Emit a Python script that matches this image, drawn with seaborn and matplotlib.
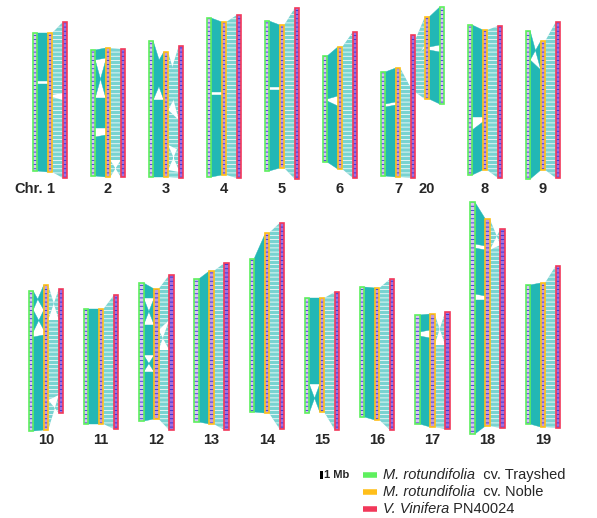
import numpy as np
import matplotlib
matplotlib.use("Agg")
import matplotlib.pyplot as plt
from matplotlib.patches import Rectangle, Polygon
import seaborn as sns

sns.set_style("white")
plt.rcParams['font.family'] = ['Liberation Sans', 'DejaVu Sans']
plt.rcParams['hatch.linewidth'] = 0.55

# ---------------- data (chromosome extents on the shared vertical scale) ----------------
chroms    = ['1', '2', '3', '4', '5', '6', '7', '20', '8', '9',
             '10', '11', '12', '13', '14', '15', '16', '17', '18', '19']
tray_top  = [33, 50, 41, 18, 21, 56, 72, 7, 25, 31,
             291, 309, 283, 279, 259, 298, 287, 315, 202, 285]
tray_bot  = [171, 176, 177, 177, 171, 162, 176, 104, 175, 179,
             431, 424, 421, 422, 412, 413, 417, 424, 434, 424]
noble_top = [33, 48, 52, 22, 25, 47, 68, 17, 30, 41,
             285, 309, 289, 271, 233, 298, 288, 314, 219, 283]
noble_bot = [172, 177, 177, 175, 168, 169, 177, 99, 170, 170,
             430, 424, 419, 424, 413, 412, 420, 427, 426, 427]
pn_top    = [22, 49, 46, 15, 8, 32, 35, np.nan, 26, 22,
             289, 295, 275, 263, 223, 292, 279, 312, 229, 266]
pn_bot    = [178, 177, 178, 178, 179, 178, 178, np.nan, 178, 178,
             413, 429, 430, 430, 429, 430, 430, 429, 428, 428]
pn_partner = {'20': '7'}   # V. vinifera chr 7 is shared by muscadine chr 7 and chr 20

# syntenic blocks: (start_a, end_a, start_b, end_b); reversed b = inversion
tray_noble_blocks = {
    '1':  [(33, 81, 33, 81), (84, 171, 84, 172)],
    '2':  [(50, 60, 48, 58), (60, 98, 98, 60), (98, 128, 98, 128), (137, 176, 135, 177)],
    '3':  [(41, 70, 75, 100), (70, 100, 52, 75), (100, 177, 100, 177)],
    '4':  [(18, 92, 22, 92), (95, 177, 95, 175)],
    '5':  [(21, 87, 25, 87), (90, 171, 90, 168)],
    '6':  [(56, 99, 47, 96), (101, 162, 106, 169)],
    '7':  [(72, 104, 68, 102), (107, 176, 105, 177)],
    '20': [(7, 45, 17, 47), (52, 104, 50, 99)],
    '8':  [(25, 117, 30, 117), (130, 175, 122, 170)],
    '9':  [(31, 60, 70, 41), (60, 179, 70, 170)],
    '10': [(291, 310, 310, 285), (310, 332, 330, 310), (337, 431, 335, 430)],
    '11': [(309, 424, 309, 424)],
    '12': [(283, 298, 289, 298), (298, 325, 325, 298), (325, 355, 325, 355),
           (355, 372, 372, 355), (372, 421, 372, 419)],
    '13': [(279, 422, 271, 424)],
    '14': [(259, 412, 235, 413)],
    '15': [(298, 384, 298, 384), (384, 413, 412, 384)],
    '16': [(287, 417, 288, 420)],
    '17': [(315, 332, 314, 330), (336, 424, 338, 427)],
    '18': [(202, 244, 219, 246), (248, 294, 250, 296), (300, 434, 300, 426)],
    '19': [(285, 424, 283, 427)],
}
noble_pn_blocks = {
    '1':  [(33, 95, 22, 93), (97, 172, 100, 178)],
    '2':  [(48, 160, 49, 160), (160, 177, 177, 160)],
    '3':  [(52, 80, 90, 120), (80, 110, 46, 90), (110, 145, 120, 150),
           (145, 170, 170, 145), (170, 177, 172, 178)],
    '4':  [(22, 175, 15, 178)],
    '5':  [(25, 168, 8, 179)],
    '6':  [(47, 169, 32, 178)],
    '7':  [(68, 177, 88, 178)],
    '20': [(17, 45, 40, 60), (48, 99, 55, 92)],
    '8':  [(30, 170, 26, 178)],
    '9':  [(41, 170, 22, 178)],
    '10': [(285, 320, 320, 289), (320, 400, 320, 395), (400, 430, 413, 395)],
    '11': [(309, 424, 295, 429)],
    '12': [(289, 330, 275, 320), (330, 350, 350, 320), (350, 419, 350, 430)],
    '13': [(271, 424, 263, 430)],
    '14': [(233, 413, 223, 429)],
    '15': [(298, 412, 292, 430)],
    '16': [(288, 420, 279, 430)],
    '17': [(314, 345, 345, 312), (345, 427, 345, 429)],
    '18': [(219, 250, 245, 229), (250, 426, 245, 428)],
    '19': [(283, 427, 266, 428)],
}

label_top_row    = ['1', '2', '3', '4', '5', '6', '7', '20', '8', '9']
label_bottom_row = ['10', '11', '12', '13', '14', '15', '16', '17', '18', '19']
legend_names = [('M. rotundifolia', '  cv. Trayshed'),
                ('M. rotundifolia', '  cv. Noble'),
                ('V. Vinifera', ' PN40024')]

# ---------------- layout / style ----------------
GREEN, ORANGE, RED = '#5ef05e', '#ffbf1a', '#f2385a'
TEAL_SOLID, TEAL_LIGHT = '#22b7b5', '#78d3d1'
BAR_W = 4.4
top_slots = [0, 1, 2, 3, 4, 5, 6, 6.5, 7.5, 8.5]
bot_slots = list(range(10))

fig = plt.figure(figsize=(5.97, 5.18), dpi=100)
ax = fig.add_axes([0, 0, 1, 1])
ax.set_xlim(0, 597)
ax.set_ylim(518, 0)
ax.axis('off')

xpos = {}
for c, s in zip(label_top_row, top_slots):
    xpos[c] = 50 + 58 * s
for c, s in zip(label_bottom_row, bot_slots):
    xpos[c] = 46 + 55.2 * s

def bar_x(c):
    xo = xpos[c]
    if c == '20':
        return xo + 15, xo, xo - 15
    return xo - 15, xo, xo + 15

def draw_bar(x, y0, y1, edge, face):
    ax.add_patch(Rectangle((x - BAR_W / 2, y0), BAR_W, y1 - y0, facecolor=face,
                           edgecolor='#2727d0', hatch='----', lw=0, zorder=3))
    ax.add_patch(Rectangle((x - BAR_W / 2, y0), BAR_W, y1 - y0, fill=False,
                           edgecolor=edge, lw=1.2, zorder=4))

def draw_block(xa, xb, blk, color, hatch):
    a0, a1, b0, b1 = blk
    d = (1.0 if xb > xa else -1.0) * BAR_W / 2
    poly = Polygon([(xa + d, a0), (xb - d, b0), (xb - d, b1), (xa + d, a1)],
                   closed=True, facecolor=color,
                   edgecolor='white' if hatch else color,
                   lw=0 if hatch else 0.3, hatch=hatch, zorder=2)
    ax.add_patch(poly)

for i, c in enumerate(chroms):
    xg, xo, xr = bar_x(c)
    for blk in tray_noble_blocks[c]:
        draw_block(xg, xo, blk, TEAL_SOLID, None)
    if c in pn_partner:
        xr = bar_x(pn_partner[c])[2]
    for blk in noble_pn_blocks[c]:
        draw_block(xo, xr, blk, TEAL_LIGHT, '----')
    draw_bar(xg, tray_top[i], tray_bot[i], GREEN, '#d8c4f2')
    draw_bar(xo, noble_top[i], noble_bot[i], ORANGE, '#c49ae0')
    if not np.isnan(pn_top[i]):
        draw_bar(xr, pn_top[i], pn_bot[i], RED, '#a070e0')

# chromosome labels
for c in label_top_row:
    ax.text(xpos[c], 189, c, ha='center', va='center', fontsize=10.5, fontweight='bold')
ax.text(43, 189, 'Chr.', ha='right', va='center', fontsize=10.5, fontweight='bold')
for c in label_bottom_row:
    ax.text(xpos[c], 440, c, ha='center', va='center', fontsize=10.5, fontweight='bold')

# scale bar + legend
ax.add_patch(Rectangle((320, 471), 2.6, 7.5, facecolor='black', lw=0))
ax.text(324, 475, '1 Mb', ha='left', va='center', fontsize=8, fontweight='bold')
for k, (col, (ital, rest)) in enumerate(zip([GREEN, ORANGE, RED], legend_names)):
    y = 475 + 17 * k
    ax.plot([363, 377], [y, y], color=col, lw=4, solid_capstyle='butt')
    t = ax.text(383, y, ital, ha='left', va='center', fontsize=10.5, style='italic')
    ax.annotate(rest, xy=(1, 0.5), xycoords=t, ha='left', va='center', fontsize=10.5)

fig.savefig('out.png', dpi=100)
